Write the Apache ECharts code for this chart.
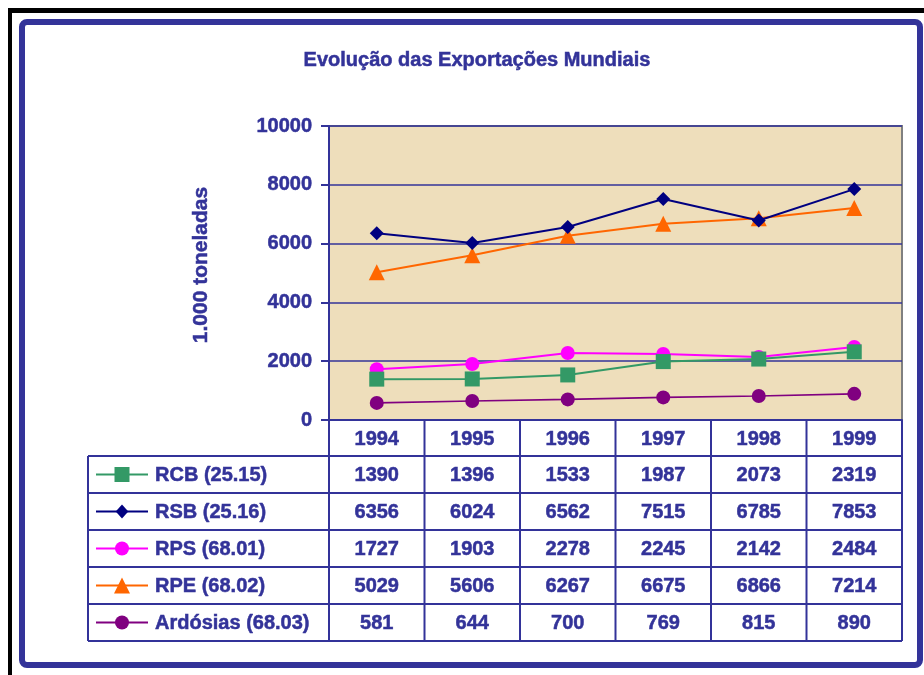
<!DOCTYPE html>
<html>
<head>
<meta charset="utf-8">
<script src="https://cdn.jsdelivr.net/npm/echarts@6/dist/echarts.min.js"></script>
<style>
  html, body { margin: 0; padding: 0; background: #fff; }
  #chart { width: 924px; height: 675px; }
</style>
</head>
<body>
<div id="chart"></div>
<script>
const years = ['1994', '1995', '1996', '1997', '1998', '1999']
const rcb = [1390, 1396, 1533, 1987, 2073, 2319]
const rsb = [6356, 6024, 6562, 7515, 6785, 7853]
const rps = [1727, 1903, 2278, 2245, 2142, 2484]
const rpe = [5029, 5606, 6267, 6675, 6866, 7214]
const ardosias = [581, 644, 700, 769, 815, 890]
const seriesNames = ['RCB (25.15)', 'RSB (25.16)', 'RPS (68.01)', 'RPE (68.02)', 'Ardósias (68.03)']

const BLUE = '#333399'
const FONT = '"Liberation Sans", Arial, sans-serif'
// negrito um pouco mais pesado, como no original
const heavy = { textBorderColor: BLUE, textBorderWidth: 0.5 }

const styles = [
  { data: rcb, color: '#339966', symbol: 'rect', size: 15 },
  { data: rsb, color: '#000080', symbol: 'diamond', size: 14 },
  { data: rps, color: '#ff00ff', symbol: 'circle', size: 14 },
  { data: rpe, color: '#ff6600', symbol: 'triangle', size: 16 },
  { data: ardosias, color: '#800080', symbol: 'circle', size: 14 },
]

// geometria do gráfico / tabela
const gridLeft = 329, gridTop = 126, gridW = 573, gridH = 294
const tableLeft = 88
const headerBottom = 456
const rowH = 37
const colW = gridW / years.length

const chart = echarts.init(document.getElementById('chart'), null, { renderer: 'canvas' })

const series = styles.map((s, i) => ({
  name: seriesNames[i],
  type: 'line',
  data: s.data,
  symbol: s.symbol,
  symbolSize: s.size,
  showAllSymbol: true,
  lineStyle: { color: s.color, width: i === 4 ? 1.6 : 2 },
  itemStyle: { color: s.color },
  z: 10 - i,
  animation: false,
}))

const labelStyle = { color: BLUE, fontSize: 20, fontWeight: 'bold', fontFamily: FONT, ...heavy }

chart.setOption({
  animation: false,
  backgroundColor: '#fff',
  title: {
    text: 'Evolução das Exportações Mundiais',
    left: 472,
    top: 45,
    textAlign: 'center',
    textStyle: { color: BLUE, fontSize: 20, fontWeight: 'bold', fontFamily: FONT, ...heavy },
  },
  grid: {
    left: gridLeft, top: gridTop, width: gridW, height: gridH,
    show: true, backgroundColor: '#eedebb', borderColor: '#808080', borderWidth: 2,
  },
  xAxis: {
    type: 'category',
    data: years,
    boundaryGap: true,
    axisLine: { lineStyle: { color: BLUE, width: 2 } },
    axisTick: { show: false },
    axisLabel: { ...labelStyle, margin: 9 },
  },
  yAxis: {
    type: 'value',
    min: 0, max: 10000, interval: 2000,
    axisLine: { show: true, lineStyle: { color: BLUE, width: 2 } },
    axisTick: { show: true, length: 8, lineStyle: { color: BLUE, width: 2 } },
    axisLabel: { ...labelStyle, margin: 17, formatter: (v) => String(v) },
    splitLine: { lineStyle: { color: BLUE, width: 1.5 } },
  },
  series,
})

// tabela de dados + moldura
const g = []
const lineStyle = { stroke: BLUE, lineWidth: 2 }

// moldura exterior
g.push({ type: 'line', shape: { x1: 8, y1: 10.5, x2: 924, y2: 10.5 }, style: { stroke: '#000', lineWidth: 5 } })
g.push({ type: 'line', shape: { x1: 10, y1: 8, x2: 10, y2: 675 }, style: { stroke: '#000', lineWidth: 4 } })
g.push({ type: 'rect', shape: { x: 22, y: 22, width: 898, height: 643, r: 5 }, style: { fill: 'none', stroke: BLUE, lineWidth: 6 } })

const textStyle = { fill: BLUE, fontSize: 20, fontWeight: 'bold', fontFamily: FONT, stroke: BLUE, lineWidth: 0.5 }

// título do eixo y
g.push({
  type: 'text', x: 201, y: 265, rotation: Math.PI / 2,
  style: { ...textStyle, fontSize: 21, text: '1.000 toneladas', textAlign: 'center', textVerticalAlign: 'middle' },
})

const tableBottom = headerBottom + rowH * seriesNames.length
const tableRight = gridLeft + gridW

// linhas verticais
for (let i = 1; i <= years.length; i++) {
  const x = gridLeft + i * colW
  g.push({ type: 'line', shape: { x1: x, y1: gridTop + gridH, x2: x, y2: tableBottom }, style: lineStyle })
}
g.push({ type: 'line', shape: { x1: gridLeft, y1: gridTop + gridH, x2: gridLeft, y2: tableBottom }, style: lineStyle })
g.push({ type: 'line', shape: { x1: tableLeft, y1: headerBottom, x2: tableLeft, y2: tableBottom }, style: lineStyle })

// linhas horizontais
for (let r = 0; r <= seriesNames.length; r++) {
  const y = headerBottom + r * rowH
  g.push({ type: 'line', shape: { x1: tableLeft, y1: y, x2: tableRight, y2: y }, style: lineStyle })
}

styles.forEach((s, r) => {
  const cy = headerBottom + r * rowH + rowH / 2
  // chave da legenda
  g.push({ type: 'line', shape: { x1: 96, y1: cy, x2: 148, y2: cy }, style: { stroke: s.color, lineWidth: 2 } })
  const mx = 122, h = s.size / 2
  if (s.symbol === 'rect') {
    g.push({ type: 'rect', shape: { x: mx - h, y: cy - h, width: s.size, height: s.size }, style: { fill: s.color } })
  } else if (s.symbol === 'diamond') {
    g.push({ type: 'polygon', shape: { points: [[mx, cy - h], [mx + h * 0.9, cy], [mx, cy + h], [mx - h * 0.9, cy]] }, style: { fill: s.color } })
  } else if (s.symbol === 'triangle') {
    g.push({ type: 'polygon', shape: { points: [[mx, cy - h], [mx + h, cy + h], [mx - h, cy + h]] }, style: { fill: s.color } })
  } else {
    g.push({ type: 'circle', shape: { cx: mx, cy, r: h }, style: { fill: s.color } })
  }
  g.push({ type: 'text', x: 155, y: cy + 1, style: { ...textStyle, text: seriesNames[r], textAlign: 'left', textVerticalAlign: 'middle' } })

  s.data.forEach((v, c) => {
    const cx = chart.convertToPixel({ xAxisIndex: 0 }, years[c])
    g.push({ type: 'text', x: cx, y: cy + 1, style: { ...textStyle, text: String(v), textAlign: 'center', textVerticalAlign: 'middle' } })
  })
})

chart.setOption({ graphic: g })
</script>
</body>
</html>
